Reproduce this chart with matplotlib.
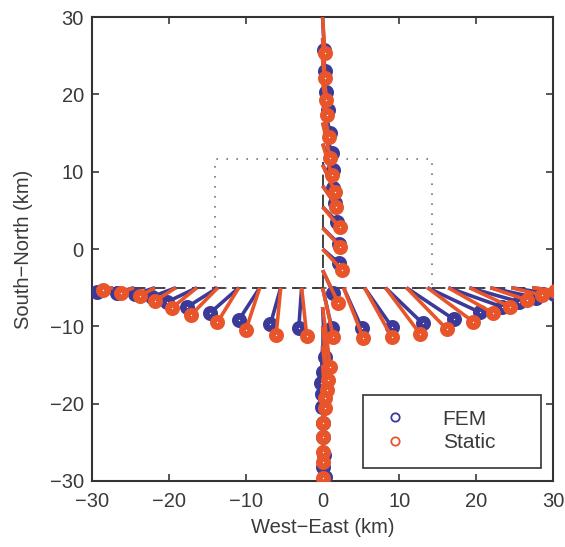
import matplotlib
matplotlib.use('Agg')
import matplotlib.pyplot as plt
from matplotlib.lines import Line2D
from matplotlib.patches import Rectangle

# ---------------- data ----------------
# Profile along y = -5 (West-East)
h_station_x = [-27.27, -24.55, -21.82, -19.09, -16.36, -13.64, -10.91, -8.18, -5.45, -2.73,
               0.0, 2.73, 5.45, 8.18, 10.91, 13.64, 16.36, 19.09, 21.82, 24.55, 27.27]
h_fem_x = [-29.4, -26.8, -24.4, -22.2, -20.2, -17.7, -14.7, -10.9, -6.8, -3.1,
           1.2, 5.1, 9.0, 13.0, 17.1, 20.5, 23.3, 25.5, 27.8, 30.1, 32.0]
h_fem_y = [-5.52, -5.65, -5.86, -6.17, -6.82, -7.54, -8.32, -9.18, -9.74, -10.18,
           -10.26, -10.26, -10.05, -9.6, -9.1, -8.2, -7.46, -6.8, -6.3, -5.86, -5.6]
h_static_x = [-28.6, -26.2, -23.8, -21.8, -19.6, -17.1, -13.7, -10.0, -6.05, -2.06,
              1.4, 5.3, 9.0, 12.7, 16.2, 19.6, 22.2, 24.4, 26.6, 28.5, 30.3]
h_static_y = [-5.3, -5.65, -6.1, -6.7, -7.6, -8.5, -9.5, -10.5, -11.1, -11.25,
              -11.4, -11.55, -11.4, -11.0, -10.4, -9.4, -8.3, -7.46, -6.6, -5.95, -5.4]

# Profile along x = 0 (South-North)
v_station_y = [30.0, 27.27, 24.55, 21.82, 19.09, 16.36, 13.64, 10.91, 8.18, 5.45, 2.73, 0.0, -2.73,
               -7.5, -10.0, -12.5, -15.0, -17.5, -20.0, -22.5, -25.0, -27.5, -30.0]
v_fem_x = [0.2, 0.3, 0.4, 0.7, 1.0, 1.2, 1.4, 1.4, 1.6, 1.9, 2.1, 2.1, 1.4,
           0.3, 0.0, -0.2, -0.1, -0.1, 0.1, 0.1, 0.2, 0.1, 0.3]
v_fem_y = [25.8, 23.0, 20.3, 18.0, 15.0, 12.4, 10.2, 7.9, 5.9, 3.5, 0.7, -1.8, -5.7,
           -13.9, -15.9, -17.3, -18.7, -20.4, -22.5, -24.3, -26.6, -28.2, -29.5]
v_static_x = [0.3, 0.3, 0.5, 0.6, 0.8, 1.0, 1.2, 1.6, 1.8, 2.2, 2.3, 2.5, 2.06,
              1.0, 0.7, 0.6, 0.3, 0.3, 0.1, 0.1, 0.1, 0.0, 0.0]
v_static_y = [25.3, 22.1, 19.3, 17.3, 14.5, 11.8, 9.6, 7.4, 5.5, 2.8, 0.3, -2.7, -7.0,
              -15.2, -17.0, -18.2, -19.3, -20.6, -22.5, -24.3, -26.3, -27.6, -29.6]

profile_y = -5.0
profile_x = 0.0
fault_top = 11.2
rect_x = [-14.0, 14.3, 14.3, -14.0, -14.0]
rect_y = [-5.0, -5.0, 11.6, 11.6, -5.0]

x_ticks = [-30, -20, -10, 0, 10, 20, 30]
y_ticks = [-30, -20, -10, 0, 10, 20, 30]

# ---------------- plot ----------------
plt.rcParams['font.family'] = ['Liberation Sans', 'DejaVu Sans']
fem_c = '#3b3a98'
sta_c = '#e9552b'
txt_c = '#3a3a3a'

fig = plt.figure(figsize=(5.65, 5.47), dpi=100)
ax = fig.add_axes([0.163, 0.1207, 0.816, 0.848])

ax.plot(rect_x, rect_y, linestyle=(0, (1, 5)), color='#777777', lw=1.2, zorder=1)
ax.plot([-30, 30], [profile_y, profile_y], linestyle=(0, (8, 4)), color='#222222', lw=1.2, zorder=1)
ax.plot([profile_x, profile_x], [profile_y, fault_top], linestyle=(0, (8, 4)), color='#222222', lw=1.2, zorder=1)

lw = 2.6
ms_kw = dict(marker='o', markersize=6, markeredgewidth=4.8, markerfacecolor='white', linestyle='none')

for sx, fx, fy in zip(h_station_x, h_fem_x, h_fem_y):
    ax.plot([sx, fx], [profile_y, fy], color=fem_c, lw=lw, zorder=2, solid_capstyle='butt')
for sy, fx, fy in zip(v_station_y, v_fem_x, v_fem_y):
    ax.plot([profile_x, fx], [sy, fy], color=fem_c, lw=lw, zorder=2, solid_capstyle='butt')
ax.plot(h_fem_x, h_fem_y, color=fem_c, markeredgecolor=fem_c, zorder=3, **ms_kw)
ax.plot(v_fem_x, v_fem_y, color=fem_c, markeredgecolor=fem_c, zorder=3, **ms_kw)

for sx, fx, fy in zip(h_station_x, h_static_x, h_static_y):
    ax.plot([sx, fx], [profile_y, fy], color=sta_c, lw=lw, zorder=4, solid_capstyle='butt')
for sy, fx, fy in zip(v_station_y, v_static_x, v_static_y):
    ax.plot([profile_x, fx], [sy, fy], color=sta_c, lw=lw, zorder=4, solid_capstyle='butt')
ax.plot(h_static_x, h_static_y, color=sta_c, markeredgecolor=sta_c, zorder=5, **ms_kw)
ax.plot(v_static_x, v_static_y, color=sta_c, markeredgecolor=sta_c, zorder=5, **ms_kw)

ax.set_xlim(-30, 30)
ax.set_ylim(-30, 30)
ax.set_xticks(x_ticks)
ax.set_yticks(y_ticks)
ax.set_xticklabels([str(t).replace('-', '\u2212') for t in x_ticks])
ax.set_yticklabels([str(t).replace('-', '\u2212') for t in y_ticks])
ax.tick_params(direction='in', length=5, width=1.2, top=True, right=True,
               labelsize=14.5, colors=txt_c, pad=6)
ax.tick_params(axis='x', pad=8)
for s in ax.spines.values():
    s.set_linewidth(1.5)
    s.set_color('#333333')
ax.set_xlabel('West\u2212East (km)', fontsize=14.5, color=txt_c, labelpad=5)
ax.set_ylabel('South\u2212North (km)', fontsize=14.5, color=txt_c, labelpad=12)

# legend box (frame drawn separately to match proportions)
ax.add_patch(Rectangle((0.588, 0.028), 0.386, 0.157, transform=ax.transAxes,
                       facecolor='white', edgecolor='#333333', lw=1.2, zorder=6))
handles = [Line2D([], [], marker='o', linestyle='none', markersize=6, markerfacecolor='none',
                  markeredgecolor=fem_c, markeredgewidth=1.3),
           Line2D([], [], marker='o', linestyle='none', markersize=6, markerfacecolor='none',
                  markeredgecolor=sta_c, markeredgewidth=1.3)]
leg = ax.legend(handles, ['FEM', 'Static'], loc='center left', bbox_to_anchor=(0.634, 0.1078),
                fontsize=15, frameon=False, handlelength=1.0, handletextpad=1.8,
                borderpad=0, labelspacing=0.22, borderaxespad=0)
leg.set_zorder(7)
for t in leg.get_texts():
    t.set_color(txt_c)

fig.savefig('out.png', dpi=100)
